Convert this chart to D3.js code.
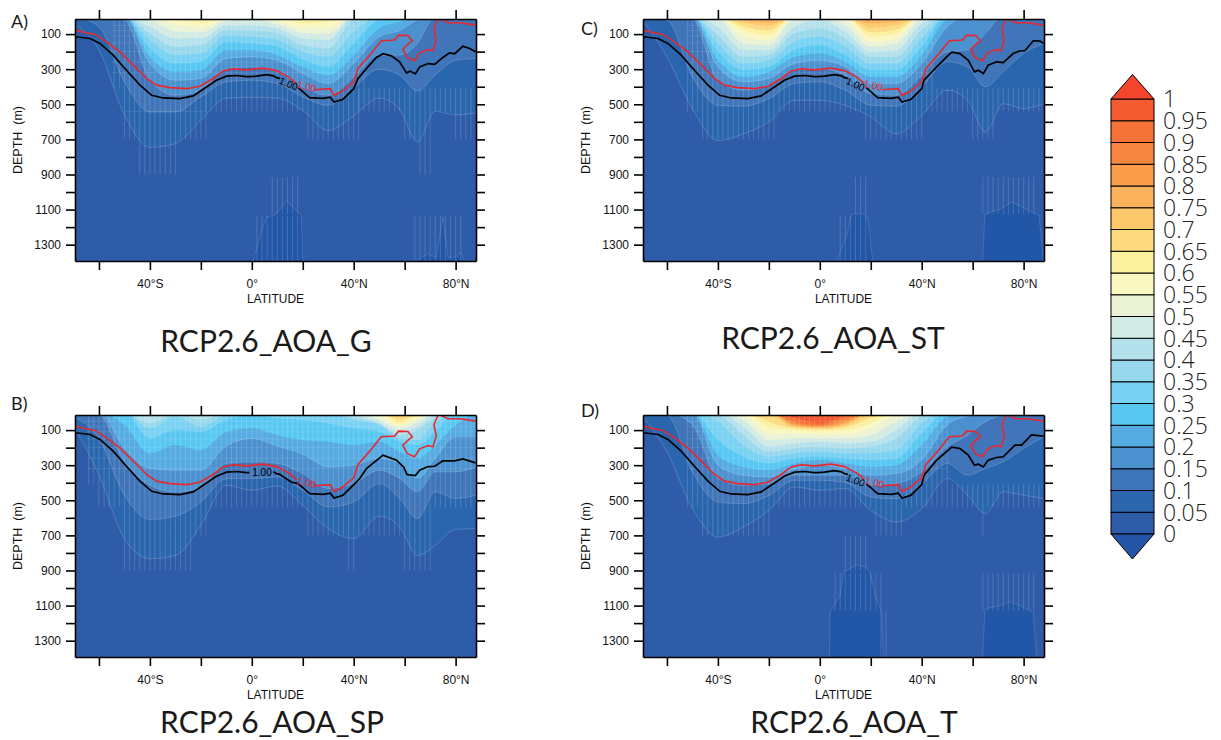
<!DOCTYPE html>
<html><head><meta charset="utf-8">
<script src="https://cdn.jsdelivr.net/npm/d3@7"></script>
<style>
html,body{margin:0;padding:0;background:#fff}
svg{display:block}
.ax text{font-family:"Liberation Sans",sans-serif;font-size:12px;fill:#111}
.ax path,.ax line{stroke:#000;stroke-width:1.6}
</style></head><body><svg id="c" width="1221" height="740"></svg>
<script>
// ---------- data ----------
const LATS=[-70,-60,-50,-40,-30,-20,-10,0,10,20,30,40,50,58,65,72,80,88];
const LEVELS=[.05,.1,.15,.2,.25,.3,.35,.4,.45,.5,.55,.6,.65,.7,.75,.8,.85,.9,.95];
const BAND_COLORS=["#2e5ca8","#2b66ae","#3f75b9","#4b90cf","#55abe2","#58c8f2","#79d1f3","#98d8ed","#b5e1ed","#d2ebe4","#ecf3d4","#faf7c0","#fbf09d","#fdda80","#fdc76b","#fcb25c","#f99d4a","#f78640","#f57338","#f45a30"];
const UNDER_COLOR="#2356a6", OVER_COLOR="#f2452c";
const BAR_LABELS=["0","0.05","0.1","0.15","0.2","0.25","0.3","0.35","0.4","0.45","0.5","0.55","0.6","0.65","0.7","0.75","0.8","0.85","0.9","0.95","1"];
const LAT_TICKS=[-60,-40,-20,0,20,40,60,80];
const LAT_LABELS=[-40,0,40,80];
const DEPTH_TICKS=[100,200,300,400,500,600,700,800,900,1000,1100,1200,1300];
const DEPTH_LABELS=[100,300,500,700,900,1100,1300];
// depth (m) of the lower edge of each level, one row per level, one column per LATS
const DEPTHS_A=[
[40,190,560,745,725,590,465,460,465,535,650,565,465,530,715,540,560,550],
[0,58,372,544,544,458,372,363,382,458,506,405,300,334,424,334,249,239],
[0,0,20,363,449,420,296,287,315,401,449,344,220,220,153,0,0,0],
[0,0,0,268,363,353,239,230,249,325,382,268,115,80,20,0,0,0],
[0,0,0,230,315,306,191,191,220,287,334,220,68,30,0,0,0,0],
[0,0,0,182,268,258,144,153,172,245,287,153,20,0,0,0,0,0],
[0,0,0,134,220,210,106,115,134,201,230,87,0,0,0,0,0,0],
[0,0,0,96,172,163,77,80,96,163,182,20,0,0,0,0,0,0],
[0,0,0,58,125,125,49,49,68,125,134,0,0,0,0,0,0,0],
[0,0,0,20,85,90,25,15,45,92,100,0,0,0,0,0,0,0],
[0,0,0,0,45,62,14,0,25,66,66,0,0,0,0,0,0,0],
[0,0,0,0,16,36,0,0,0,40,30,0,0,0,0,0,0,0],
[0,0,0,0,0,0,0,0,0,18,14,0,0,0,0,0,0,0]];
const DEPTHS_B=[
[75,357,719,833,814,643,414,443,418,529,662,719,590,652,814,757,666,662],
[24,148,471,609,590,510,376,376,367,443,538,510,405,490,605,452,490,471],
[0,14,281,414,452,424,290,281,290,348,433,405,329,376,452,338,338,310],
[0,0,205,319,329,329,191,148,191,238,310,300,262,290,376,262,138,138],
[0,0,71,233,186,214,110,90,129,157,167,186,167,224,262,186,71,0],
[0,0,0,148,100,110,43,14,33,43,62,90,110,167,186,110,0,0],
[0,0,0,90,24,81,14,0,0,0,0,43,71,148,157,60,0,0],
[0,0,0,62,0,43,0,0,0,0,0,30,65,129,100,30,0,0],
[0,0,0,0,0,0,0,0,0,0,0,14,58,110,80,14,0,0],
[0,0,0,0,0,0,0,0,0,0,0,0,40,92,55,0,0,0],
[0,0,0,0,0,0,0,0,0,0,0,0,20,75,35,0,0,0],
[0,0,0,0,0,0,0,0,0,0,0,0,0,65,20,0,0,0],
[0,0,0,0,0,0,0,0,0,0,0,0,0,45,10,0,0,0],
[0,0,0,0,0,0,0,0,0,0,0,0,0,24,0,0,0,0]];
const DEPTHS_C=[
[14,230,525,707,668,600,477,477,506,572,668,563,420,477,658,497,525,496],
[0,20,344,506,511,468,382,372,420,506,511,401,258,287,401,315,210,153],
[0,0,14,363,420,391,306,296,334,439,449,334,201,191,96,0,0,0],
[0,0,0,287,372,353,268,249,287,382,382,268,58,0,0,0,0,0],
[0,0,0,249,344,315,230,210,258,344,344,220,20,0,0,0,0,0],
[0,0,0,201,306,287,191,163,220,306,306,172,0,0,0,0,0,0],
[0,0,0,153,268,249,144,115,172,268,268,125,0,0,0,0,0,0],
[0,0,0,106,230,220,96,68,125,230,230,77,0,0,0,0,0,0],
[0,0,0,58,191,191,58,20,87,201,191,39,0,0,0,0,0,0],
[0,0,0,14,153,163,14,0,49,172,153,14,0,0,0,0,0,0],
[0,0,0,0,115,134,0,0,14,144,125,0,0,0,0,0,0,0],
[0,0,0,0,77,106,0,0,0,115,96,0,0,0,0,0,0,0],
[0,0,0,0,55,80,0,0,0,90,75,0,0,0,0,0,0,0],
[0,0,0,0,34,55,0,0,0,62,50,0,0,0,0,0,0,0],
[0,0,0,0,20,36,0,0,0,38,28,0,0,0,0,0,0,0],
[0,0,0,0,0,20,0,0,0,22,15,0,0,0,0,0,0,0]];
const DEPTHS_D=[
[14,224,548,710,653,558,424,443,433,557,624,548,376,471,576,452,471,490],
[0,14,338,510,519,472,386,386,399,481,491,405,290,357,319,281,205,138],
[0,0,71,376,414,405,357,357,357,414,405,338,195,129,52,14,0,0],
[0,0,0,300,357,367,322,300,319,357,348,271,71,20,0,0,0,0],
[0,0,0,243,310,329,290,271,290,310,300,186,24,0,0,0,0,0],
[0,0,0,157,252,290,262,252,262,271,262,119,0,0,0,0,0,0],
[0,0,0,52,186,252,233,224,233,233,214,62,0,0,0,0,0,0],
[0,0,0,14,129,224,205,195,205,195,148,24,0,0,0,0,0,0],
[0,0,0,0,81,195,176,167,176,167,100,0,0,0,0,0,0,0],
[0,0,0,0,43,157,148,148,148,129,52,0,0,0,0,0,0,0],
[0,0,0,0,14,119,119,125,125,90,14,0,0,0,0,0,0,0],
[0,0,0,0,0,81,100,106,100,62,0,0,0,0,0,0,0,0],
[0,0,0,0,0,52,90,96,85,33,0,0,0,0,0,0,0,0],
[0,0,0,0,0,14,83,90,75,14,0,0,0,0,0,0,0,0],
[0,0,0,0,0,0,77,87,67,0,0,0,0,0,0,0,0,0],
[0,0,0,0,0,0,71,83,58,0,0,0,0,0,0,0,0,0],
[0,0,0,0,0,0,62,77,48,0,0,0,0,0,0,0,0,0],
[0,0,0,0,0,0,52,71,33,0,0,0,0,0,0,0,0,0],
[0,0,0,0,0,0,30,62,20,0,0,0,0,0,0,0,0,0]];
// red contour, [lat, depth]; null = label gap
const RED_LINE=[[-69.3,77],[-66.1,89],[-61.6,102],[-57,144],[-51.8,201],[-46.5,277],[-41.3,353],[-37.4,391],[-32.2,405],[-25.6,411],[-20.4,397],[-15.2,353],[-11.2,310],[-7.3,298],[-2.1,304],[4.4,294],[9.7,308],[14.9,348],[17.5,382],null,[24.7,417],[30.8,411],[32.3,449],[35.8,424],[40,372],[41.7,296],[46.3,220],[50.8,138],[56.1,134],[57.6,106],[61.3,108],[63,138],[61.7,153],[59.3,186],[60.9,233],[63.9,252],[65.9,207],[69.2,188],[71.1,195],[72.4,134],[71.5,68],[73.2,10],[77,35],[81.6,35],[87.8,49]];
// black contour south of 40N (common to all panels)
const BLACK_SOUTH=[[-69.3,115],[-63.5,125],[-59.6,153],[-54.4,220],[-49.2,306],[-43.9,391],[-39.3,449],[-34.8,464],[-28.2,468],[-23,452],[-19.1,414],[-13.9,363],[-9.9,340],[-6,336],[-2.1,342],[-1,342],[1.8,340],[5.8,331],[8.5,338],[9.7,348],[11,352],[12.9,372],[15.8,398],[18.2,405],[22.7,462],[28,466],[30.8,460],[32.3,487],[35.8,471],[40,411]];
const BLACK_NORTH_A=[[41.7,353],[45,296],[48.9,233],[51.5,212],[54.8,224],[58,258],[60.7,321],[62.2,311],[64.2,327],[65.9,287],[69.2,268],[71.8,273],[75,233],[77.6,207],[79.6,212],[82.9,169],[85.5,182],[87.8,201]];
const BLACK_NORTH_B=[[42.4,376],[45,319],[51.5,243],[56.7,271],[59.6,310],[60.9,353],[64.2,359],[65.9,329],[69.2,308],[71.8,306],[75,275],[79.6,275],[82.9,264],[87.8,287]];
const BLACK_NORTH_C=[[40.9,363],[45.9,287],[49.8,230],[51.8,203],[55,211],[58.3,249],[60.7,315],[62.2,306],[64.2,325],[66.1,277],[69.4,258],[72,262],[75.9,211],[78.6,195],[80.5,195],[83.8,138],[86.4,140],[87.8,153]];
const BLACK_NORTH_D=[[40.9,357],[45.9,271],[51.8,197],[55,205],[58.3,243],[60.7,300],[62.2,294],[64.2,310],[66.1,271],[69.4,256],[72,252],[76.6,186],[79.2,186],[83.1,127],[87.8,134]];
// deep pockets below 0 (lat, depth of the upper edge)
const DEEP_A=[[[.5,1395],[3.8,1220],[5.8,1144],[9.7,1125],[13.6,1049],[16.9,1097],[19.5,1134],[19.9,1395]],[[64.6,1390],[69.2,1353],[72.4,1372],[75,1144],[77,1372],[80.3,1372],[82.2,1344],[83.5,1395]]];
const DEEP_B=[];
const DEEP_C=[[[6.7,1395],[10.6,1249],[12.5,1125],[17.8,1125],[19,1163],[20.8,1395]],[[63.9,1395],[64.8,1125],[70.7,1097],[75.3,1058],[81.2,1097],[86.1,1134],[87.8,1395]]];
const DEEP_D=[[[3.8,1395],[4,1138],[8,1043],[9.3,910],[14.5,868],[18.4,881],[19.7,910],[21.7,1043],[24.3,1138],[25,1395]],[[63.9,1395],[64.8,1119],[70.7,1100],[74.6,1077],[79.9,1110],[83.8,1138],[85.1,1395]]];
// significance hatching: [lat0, lat1, depth0, depth1]
const HATCH_A=[[-55,45,14,410],[-50,-18,410,700],[-44,-30,700,900],[-18,42,410,540],[21,42,540,700],[42,87,410,540],[59,70,540,700],[66,70,700,900],[80,87,540,700],[7,18,915,1125],[2,19,1135,1395],[64,83,1135,1395]];
const HATCH_B=[[-65,88,14,410],[-60,88,410,540],[-50,-18,540,700],[22,70,540,700],[-50,-23,700,900],[38,40,700,900],[60,70,700,900]];
const HATCH_C=[[-52,45,14,410],[-52,87,410,540],[-47,-18,540,700],[18,40,540,700],[59,68,540,700],[13,18,915,1125],[7,19,1135,1395],[64,85,915,1125]];
const HATCH_D=[[-52,50,14,410],[-52,87,410,540],[-47,-20,540,700],[22,33,540,700],[63,65,540,700],[9,18,700,905],[5,24,915,1130],[64,84,915,1130],[24,27,1130,1395]];
const HATCH_LEVELS=[50,80,110,150,200,260,320,410,540,700];
const TITLES=["RCP2.6_AOA_G","RCP2.6_AOA_SP","RCP2.6_AOA_ST","RCP2.6_AOA_T"];
const TAGS=["A)","B)","C)","D)"];
const CONTOUR_LABEL="1.00";
// label anchors: lat, depth, rotation, line gap
const LABEL_BLACK=[[14.4,383,22,12,17],[4,342,0,-1,8.5],[14,386,24,11,15.9],[14,386,22,11,18]];
const LABEL_RED=[[21.5,399,14],[21.5,399,14],[21,392,14],[21.5,399,14]];

// ---------- layout ----------
const W=401,H=242;
const layout=[
 {x:75,y:19,d:DEPTHS_A,deep:DEEP_A,hatch:HATCH_A,north:BLACK_NORTH_A,tx:266,ty:352,lx:11,ly:28},
 {x:75,y:415,d:DEPTHS_B,deep:DEEP_B,hatch:HATCH_B,north:BLACK_NORTH_B,tx:272,ty:733,lx:11,ly:410},
 {x:643,y:19,d:DEPTHS_C,deep:DEEP_C,hatch:HATCH_C,north:BLACK_NORTH_C,tx:833,ty:349,lx:581,ly:35},
 {x:643,y:415,d:DEPTHS_D,deep:DEEP_D,hatch:HATCH_D,north:BLACK_NORTH_D,tx:854,ty:733,lx:581,ly:417}];
const svg=d3.select("#c");
const defs=svg.append("defs");
defs.append("filter").attr("id","soft").attr("x",0).attr("y",0).attr("width",1).attr("height",1)
  .append("feGaussianBlur").attr("stdDeviation",.4);
const xS=d3.scaleLinear().domain([-69.4,88]).range([0,W]);
const yS=d3.scaleLinear().domain([14,1393]).range([0,H]);
const latFmt=d=>!LAT_LABELS.includes(d)?"":(d===0?"0°":(d<0?`${-d}°S`:`${d}°N`));

layout.forEach((p,i)=>{
  const g=svg.append("g").attr("transform",`translate(${p.x},${p.y})`);
  const clipId="clip"+i;
  defs.append("clipPath").attr("id",clipId).append("rect").attr("width",W).attr("height",H);
  const outer=g.append("g").attr("clip-path",`url(#${clipId})`);
  const plot=outer.append("g").attr("filter","url(#soft)");
  plot.append("rect").attr("x",-3).attr("y",-3).attr("width",W+6).attr("height",H+6).attr("fill",BAND_COLORS[0]);
  // deep pockets
  p.deep.forEach(b=>{
    plot.append("path").datum(b).attr("d",d3.area().x(d=>xS(d[0])).y0(H+5).y1(d=>yS(d[1]))(b))
      .attr("fill",UNDER_COLOR).attr("stroke","#fff").attr("stroke-opacity",.2).attr("stroke-width",.7);
  });
  // filled levels
  const area=d3.area().x((d,k)=>xS(LATS[k])).y0(-5).y1(d=>yS(d)).curve(d3.curveMonotoneX);
  p.d.forEach((row,k)=>{
    plot.append("path").attr("d",area(row)).attr("fill",BAND_COLORS[k+1]);
    if(k<4){
      plot.append("path").attr("d",d3.line().x((d,j)=>xS(LATS[j])).y(d=>yS(d)).curve(d3.curveMonotoneX)(row))
        .attr("fill","none").attr("stroke","#fff").attr("stroke-opacity",.25).attr("stroke-width",.7);
    }
  });
  // hatching
  const hg=plot.append("g").attr("stroke","#fff").attr("stroke-width",.8);
  p.hatch.forEach(r=>{
    hg.selectAll(null).data(d3.range(Math.ceil(r[0]/2)*2,r[1]+.01,2)).join("line")
      .attr("stroke-opacity",.2)
      .attr("x1",d=>xS(d)).attr("x2",d=>xS(d)).attr("y1",yS(r[2])).attr("y2",yS(r[3]));
    hg.selectAll(null).data(HATCH_LEVELS.filter(l=>l>r[2]&&l<r[3])).join("line")
      .attr("stroke-opacity",.13)
      .attr("x1",xS(r[0])).attr("x2",xS(r[1])).attr("y1",d=>yS(d)).attr("y2",d=>yS(d));
  });
  // contour lines
  const gap=LABEL_BLACK[i];
  const black=BLACK_SOUTH.concat(p.north);
  const lines=outer.append("g");
  lines.append("path").attr("d",d3.line().x(d=>xS(d[0])).y(d=>yS(d[1])).defined(d=>!(d[0]>gap[3]&&d[0]<gap[4]))(black))
    .attr("fill","none").attr("stroke","#000").attr("stroke-width",1.7);
  lines.append("path").attr("d",d3.line().defined(d=>d).x(d=>xS(d[0])).y(d=>yS(d[1]))(RED_LINE))
    .attr("fill","none").attr("stroke","#e8282f").attr("stroke-width",1.6);
  // contour labels
  [[LABEL_BLACK[i],"#000"],[LABEL_RED[i],"#e8282f"]].forEach(([a,col])=>{
    lines.append("text").text(CONTOUR_LABEL)
      .attr("transform",`translate(${xS(a[0])},${yS(a[1])}) rotate(${a[2]})`)
      .attr("text-anchor","middle").attr("dy","0.35em")
      .attr("font-family","Liberation Sans,sans-serif").attr("font-size",10).attr("fill",col);
  });
  // axes
  g.append("g").attr("class","ax").attr("transform",`translate(0,${H})`)
    .call(d3.axisBottom(xS).tickValues(LAT_TICKS).tickSizeInner(9).tickSizeOuter(0).tickPadding(9).tickFormat(latFmt));
  g.append("g").attr("class","ax")
    .call(d3.axisTop(xS).tickValues(LAT_TICKS).tickSizeInner(9).tickSizeOuter(0).tickFormat(""));
  g.append("g").attr("class","ax")
    .call(d3.axisLeft(yS).tickValues(DEPTH_TICKS).tickSizeInner(9).tickSizeOuter(0).tickPadding(5).tickFormat(d=>DEPTH_LABELS.includes(d)?d:""));
  g.append("g").attr("class","ax").attr("transform",`translate(${W},0)`)
    .call(d3.axisRight(yS).tickValues(DEPTH_TICKS).tickSizeInner(9).tickSizeOuter(0).tickFormat(""));
  g.append("text").text("LATITUDE").attr("x",W/2).attr("y",H+42).attr("text-anchor","middle")
    .attr("font-family","Liberation Sans,sans-serif").attr("font-size",12).attr("fill","#111");
  g.append("text").text("DEPTH  (m)").attr("transform",`translate(-53,${H/2}) rotate(-90)`).attr("text-anchor","middle")
    .style("white-space","pre").attr("font-family","Liberation Sans,sans-serif").attr("font-size",12.5).attr("fill","#111");
  // title + tag
  svg.append("text").text(TITLES[i]).attr("x",p.tx).attr("y",p.ty).attr("text-anchor","middle")
    .attr("font-family","Lato,sans-serif").attr("font-size",30).attr("fill","#1a1a1a");
  svg.append("text").text(TAGS[i]).attr("x",p.lx).attr("y",p.ly)
    .attr("font-family","Lato,sans-serif").attr("font-size",18).attr("fill","#1a1a1a");
});

// ---------- colour bar ----------
const barX=1111,barW=43;
const vS=d3.scaleLinear().domain([0,1]).range([534,99]);
const bar=svg.append("g");
BAND_COLORS.forEach((c,i)=>{
  bar.append("rect").attr("x",barX).attr("width",barW)
    .attr("y",vS((i+1)*.05)).attr("height",vS(i*.05)-vS((i+1)*.05))
    .attr("fill",c).attr("stroke","#000").attr("stroke-width",1);
});
bar.append("path").attr("d",`M${barX},${vS(1)}L${barX+barW/2},74.5L${barX+barW},${vS(1)}Z`)
  .attr("fill",OVER_COLOR).attr("stroke","#000").attr("stroke-width",1);
bar.append("path").attr("d",`M${barX},${vS(0)}L${barX+barW/2},559L${barX+barW},${vS(0)}Z`)
  .attr("fill",UNDER_COLOR).attr("stroke","#000").attr("stroke-width",1);
bar.selectAll(null).data(BAR_LABELS).join("text").text(d=>d)
  .attr("x",1163).attr("y",(d,i)=>vS(i*.05)).attr("dy","0.36em")
  .attr("font-family","Open Sans,sans-serif").attr("font-weight",300).attr("font-size",23).attr("fill","#222");
</script></body></html>
